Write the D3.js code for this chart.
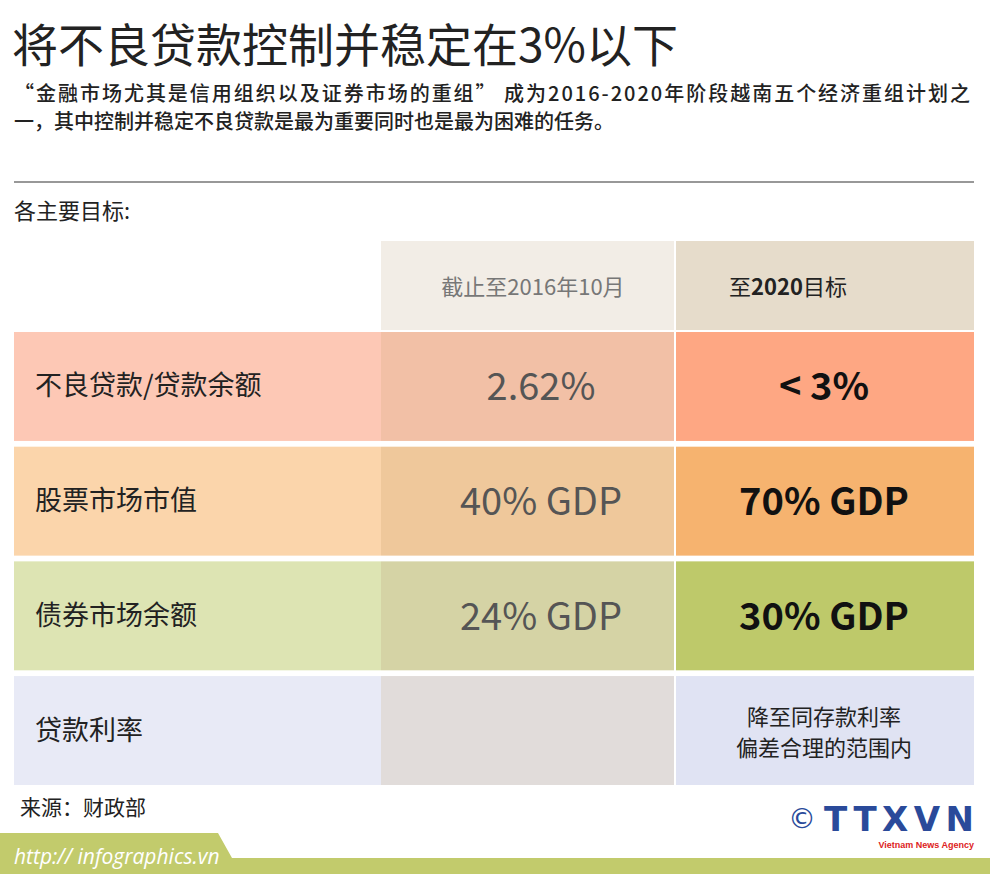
<!DOCTYPE html>
<html><head><meta charset="utf-8">
<script src="https://cdn.jsdelivr.net/npm/d3@7"></script>
<style>body{margin:0;background:#fff}svg{display:block}</style>
</head><body><svg id="c" width="990" height="874"></svg>
<script>
const title = "将不良贷款控制并稳定在3%以下";
const subtitle = ["“金融市场尤其是信用组织以及证券市场的重组” 成为2016-2020年阶段越南五个经济重组计划之","一，其中控制并稳定不良贷款是最为重要同时也是最为困难的任务。"];
const columns = ["截止至2016年10月", "至2020目标"];
const categories = ["不良贷款/贷款余额", "股票市场市值", "债券市场余额", "贷款利率"];
const current = ["2.62%", "40% GDP", "24% GDP", ""];
const target = [["< 3%"], ["70% GDP"], ["30% GDP"], ["降至同存款利率", "偏差合理的范围内"]];
const rowColors = [["#fdc8b5","#f2c0a6","#fea783"],["#fbd5ab","#efc89b","#f6b36f"],["#dde4b3","#d5d3a5","#bec96a"],["#e8eaf6","#e1dcda","#e0e3f3"]];
const F = "'Noto Sans CJK SC', 'Open Sans', sans-serif";
const svg = d3.select("#c");
svg.append("text").attr("x",12).attr("y",62).attr("font-family",F).attr("font-size",46).attr("fill","#222").text(title);
subtitle.forEach((s,i)=>{const t=svg.append("text").attr("x",14).attr("y",101+i*28).attr("font-family",F).attr("font-size",20).attr("font-weight",500).attr("fill","#222").text(s); if(i===0) t.attr("textLength",956).attr("lengthAdjust","spacing");});
svg.append("line").attr("x1",14).attr("x2",974).attr("y1",182).attr("y2",182).attr("stroke","#333").attr("stroke-width",1.2);
svg.append("text").attr("x",14).attr("y",219).attr("font-family",F).attr("font-size",22).attr("fill","#222").text("各主要目标:");
const x = d3.scaleOrdinal().domain([0,1,2]).range([14,381,676]);
const w = [367,293,298];
const y = d3.scaleBand().domain(d3.range(categories.length)).range([332,785]).paddingInner(0.05).paddingOuter(0);
svg.append("rect").attr("x",381).attr("y",241).attr("width",293).attr("height",89).attr("fill","#f2ede6");
svg.append("rect").attr("x",676).attr("y",241).attr("width",298).attr("height",89).attr("fill","#e6dccb");
svg.append("text").attr("x",533).attr("y",295).attr("text-anchor","middle").attr("font-family",F).attr("font-size",22).attr("fill","#777").text(columns[0]);
const h2=svg.append("text").attr("x",788).attr("y",295).attr("text-anchor","middle").attr("font-family",F).attr("font-size",22).attr("fill","#222");
h2.append("tspan").text("至");h2.append("tspan").attr("font-weight","bold").text("2020");h2.append("tspan").text("目标");
categories.forEach((c,i)=>{
  const y0=y(i), bh=y.bandwidth();
  [0,1,2].forEach(j=>svg.append("rect").attr("x",x(j)).attr("y",y0).attr("width",w[j]).attr("height",bh).attr("fill",rowColors[i][j]));
  svg.append("text").attr("x",35).attr("y",y0+bh/2+9).attr("font-family",F).attr("font-size",27).attr("fill","#222").text(c);
  svg.append("text").attr("x",541).attr("y",y0+bh/2+14).attr("text-anchor","middle").attr("font-family",F).attr("font-size",38).attr("fill","#555").text(current[i]);
  const t=target[i];
  if(t.length===1) svg.append("text").attr("x",824).attr("y",y0+bh/2+14).attr("text-anchor","middle").attr("font-family",F).attr("font-weight","bold").attr("font-size",38).attr("fill","#111").text(t[0]);
  else t.forEach((s,k)=>svg.append("text").attr("x",824).attr("y",y0+bh/2-6+k*31).attr("text-anchor","middle").attr("font-family",F).attr("font-size",22).attr("fill","#222").text(s));
});
svg.append("text").attr("x",20).attr("y",815).attr("font-family",F).attr("font-size",21).attr("fill","#222").text("来源：财政部");
svg.append("path").attr("d","M0,833 L218,833 L232,858 L990,858 L990,874 L0,874 Z").attr("fill","#c2cb6c");
svg.append("text").attr("x",14).attr("y",864).attr("font-family","'Open Sans',sans-serif").attr("font-style","italic").attr("font-size",21).attr("fill","#fff").text("http:// infographics.vn");
svg.append("text").attr("x",788).attr("y",828).attr("font-family","DejaVu Sans").attr("font-size",28).attr("fill","#2a4a9a").text("©");
svg.append("text").attr("x",974).attr("y",831).attr("text-anchor","end").attr("font-family","'DejaVu Sans'").attr("font-weight","bold").attr("font-size",34).attr("fill","#2a4a9a").attr("textLength",150).text("TTXVN");
svg.append("text").attr("x",974).attr("y",848).attr("text-anchor","end").attr("font-family","'Liberation Sans'").attr("font-weight","bold").attr("font-size",9).attr("fill","#d22").text("Vietnam News Agency");
</script></body></html>
